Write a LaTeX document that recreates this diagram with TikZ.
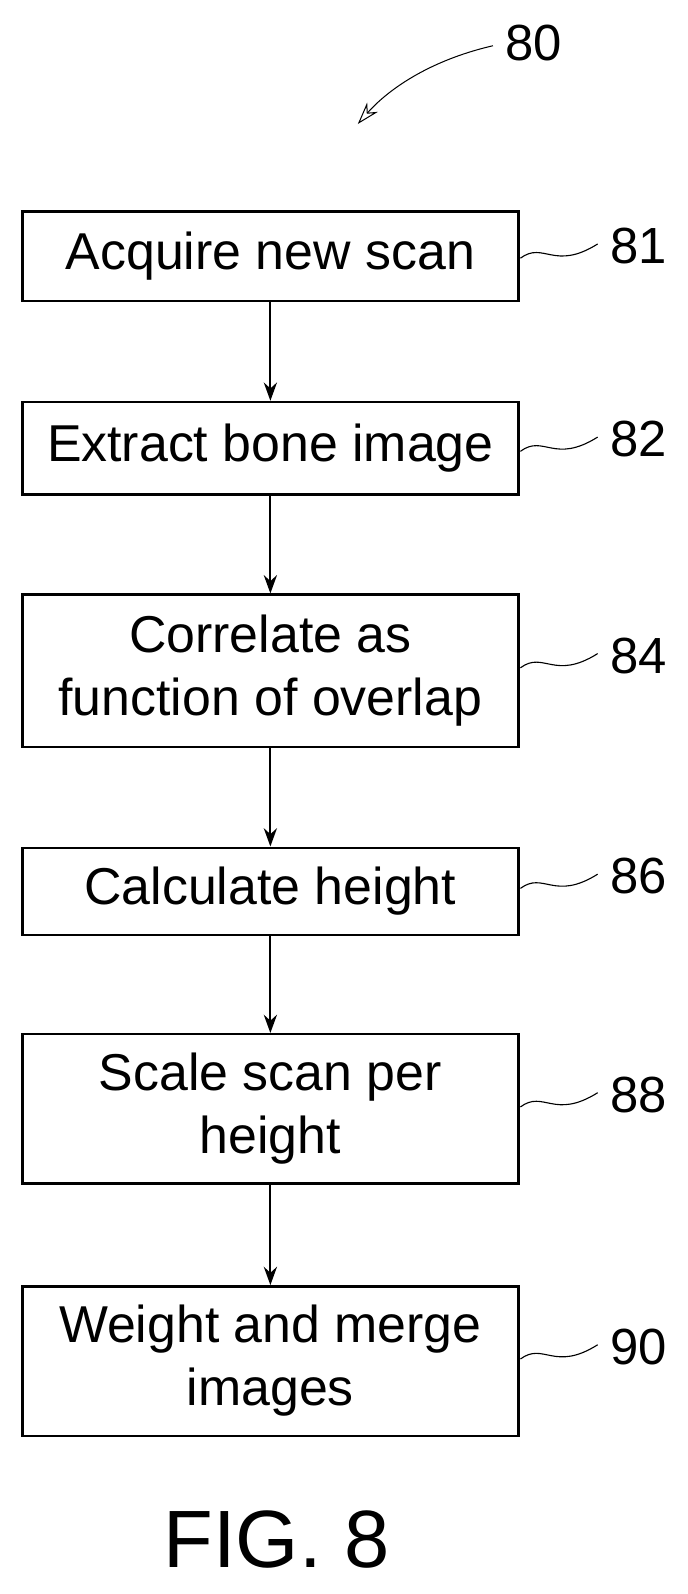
\documentclass[tikz,border=0pt]{standalone}
\usepackage{fontspec}
\setmainfont{Liberation Sans}
\usetikzlibrary{arrows.meta}
\begin{document}
\begin{tikzpicture}[x=1pt,y=-1pt,
  stepbox/.style={draw,line width=2.4pt,minimum width=488pt,align=center,font=\fontsize{51}{62}\selectfont,inner sep=0pt},
  lbl/.style={font=\fontsize{50}{58}\selectfont},
  arr/.style={-{Stealth[length=18pt,width=13pt]},line width=2pt},
  sq/.style={line width=1.1pt}]
\useasboundingbox (0,0) rectangle (676.3,1568.2);
\node[stepbox,minimum height=88pt] (b1) at (266,252) {Acquire new scan};
\node[stepbox,minimum height=91pt] (b2) at (266,441) {Extract bone image};
\node[stepbox,minimum height=150pt] (b3) at (266,660) {Correlate as\\function of overlap};
\node[stepbox,minimum height=86pt] (b4) at (266,877) {Calculate height};
\node[stepbox,minimum height=147pt] (b5) at (266,1091) {Scale scan per\\height};
\node[stepbox,minimum height=147pt] (b6) at (266,1339) {Weight and merge\\images};
\draw[arr] (b1) -- (b2);
\draw[arr] (b2) -- (b3);
\draw[arr] (b3) -- (b4);
\draw[arr] (b4) -- (b5);
\draw[arr] (b5) -- (b6);
\foreach \n/\y/\t in {1/242/81,2/432/82,3/645/84,4/862/86,5/1077/88,6/1325/90}{
  \node[lbl] (l\n) at (628,\y) {\t};
  \draw[sq] (512,\y+12) .. controls (535,\y-5) and (545,\y+25) .. (588,\y-2);
}
\node[lbl] (l0) at (525,42) {80};
\coordinate (a0) at (485,45);
\coordinate (a1) at (352,122);
\draw[-{Stealth[length=22pt,width=14pt,open]},line width=1pt] (a0) .. controls (420,60) and (380,90) .. (a1);
\node[font=\fontsize{80}{90}\selectfont] (fig) at (272,1515) {FIG. 8};
\end{tikzpicture}
\end{document}
